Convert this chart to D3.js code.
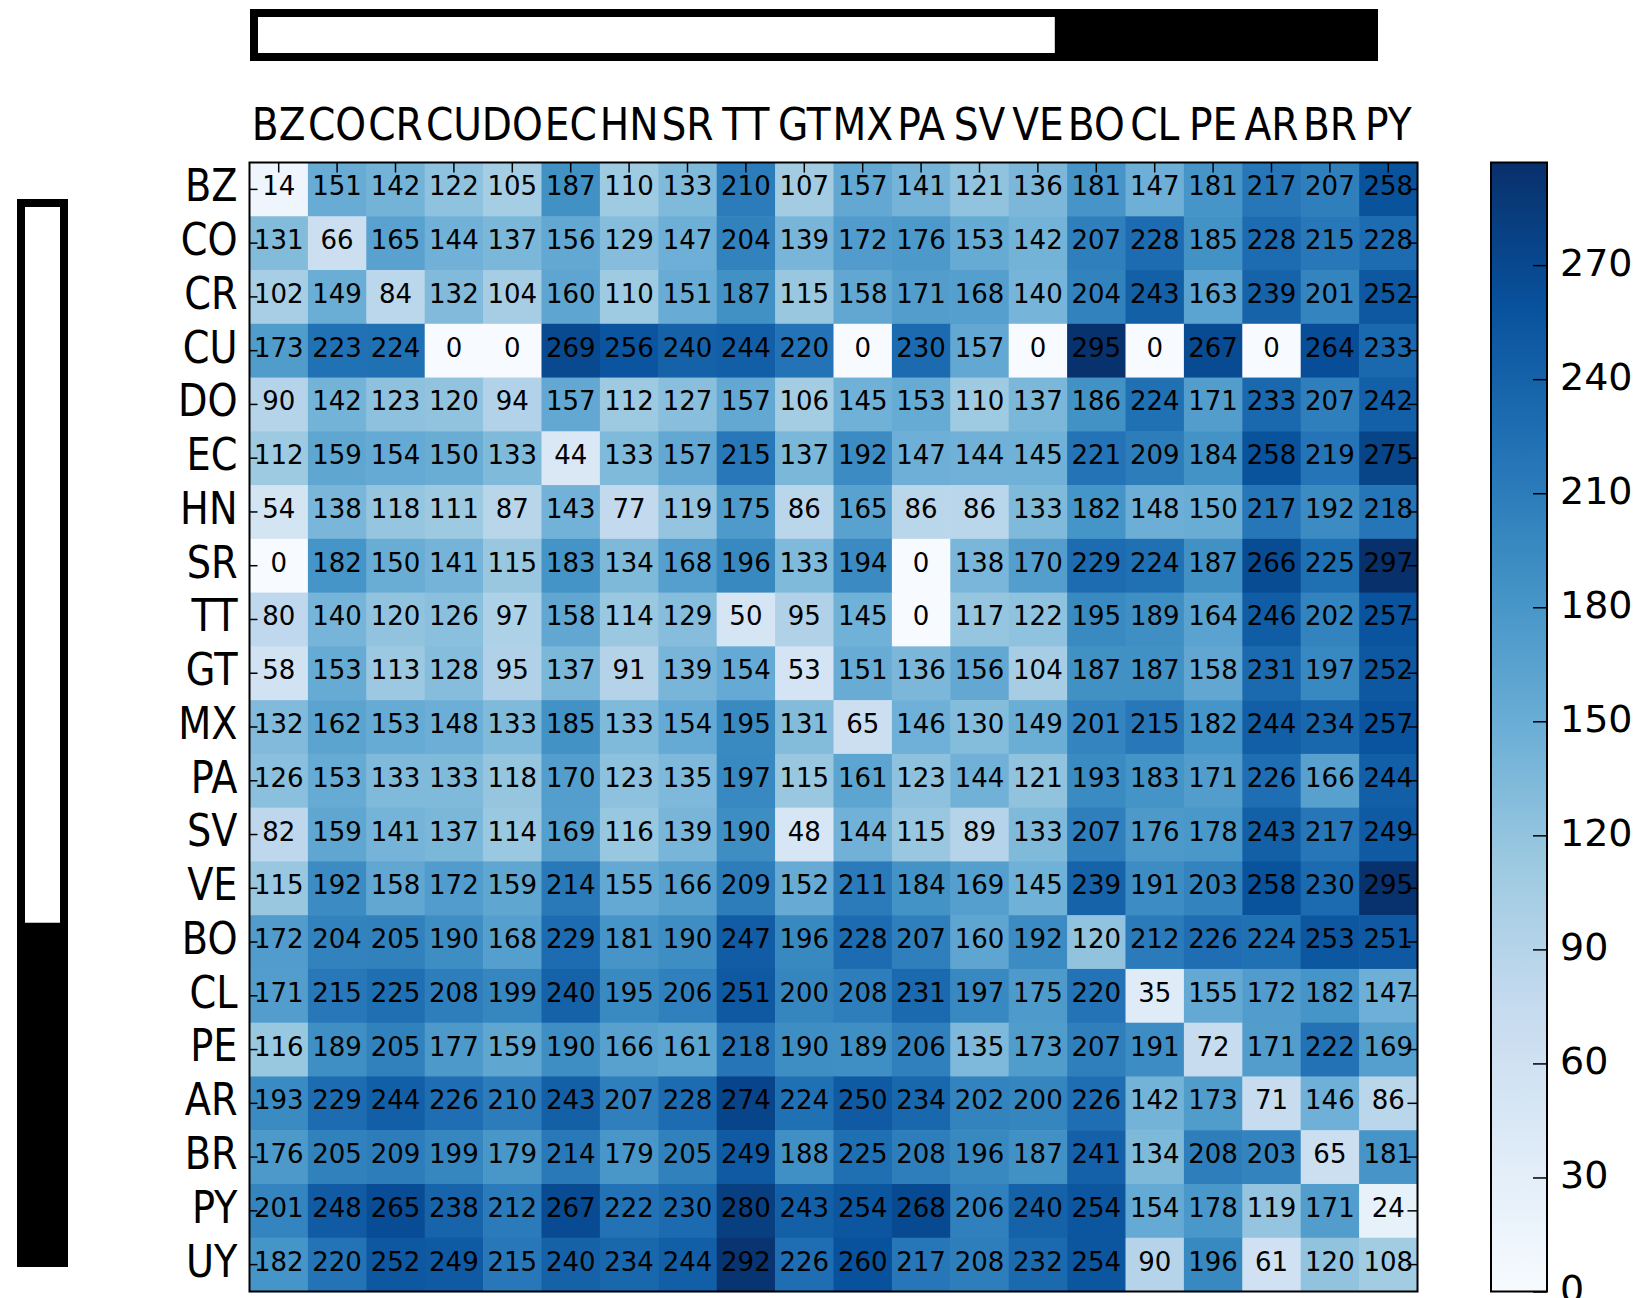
<!DOCTYPE html>
<html>
<head>
<meta charset="utf-8">
<script src="https://cdn.jsdelivr.net/npm/d3@7"></script>
<style>
  body { margin: 0; background: #fff; }
  svg { display: block; }
  text { font-family: 'DejaVu Sans', sans-serif; fill: #000; }
</style>
</head>
<body>
<svg id="chart" width="1645" height="1298"></svg>
<script>
// country codes, columns and rows
const cols = ['BZ', 'CO', 'CR', 'CU', 'DO', 'EC', 'HN', 'SR', 'TT', 'GT', 'MX', 'PA', 'SV', 'VE', 'BO', 'CL', 'PE', 'AR', 'BR', 'PY']
const rows = ['BZ', 'CO', 'CR', 'CU', 'DO', 'EC', 'HN', 'SR', 'TT', 'GT', 'MX', 'PA', 'SV', 'VE', 'BO', 'CL', 'PE', 'AR', 'BR', 'PY', 'UY']

// matrix values, one list per row
const values = [
  [14, 151, 142, 122, 105, 187, 110, 133, 210, 107, 157, 141, 121, 136, 181, 147, 181, 217, 207, 258],
  [131, 66, 165, 144, 137, 156, 129, 147, 204, 139, 172, 176, 153, 142, 207, 228, 185, 228, 215, 228],
  [102, 149, 84, 132, 104, 160, 110, 151, 187, 115, 158, 171, 168, 140, 204, 243, 163, 239, 201, 252],
  [173, 223, 224, 0, 0, 269, 256, 240, 244, 220, 0, 230, 157, 0, 295, 0, 267, 0, 264, 233],
  [90, 142, 123, 120, 94, 157, 112, 127, 157, 106, 145, 153, 110, 137, 186, 224, 171, 233, 207, 242],
  [112, 159, 154, 150, 133, 44, 133, 157, 215, 137, 192, 147, 144, 145, 221, 209, 184, 258, 219, 275],
  [54, 138, 118, 111, 87, 143, 77, 119, 175, 86, 165, 86, 86, 133, 182, 148, 150, 217, 192, 218],
  [0, 182, 150, 141, 115, 183, 134, 168, 196, 133, 194, 0, 138, 170, 229, 224, 187, 266, 225, 297],
  [80, 140, 120, 126, 97, 158, 114, 129, 50, 95, 145, 0, 117, 122, 195, 189, 164, 246, 202, 257],
  [58, 153, 113, 128, 95, 137, 91, 139, 154, 53, 151, 136, 156, 104, 187, 187, 158, 231, 197, 252],
  [132, 162, 153, 148, 133, 185, 133, 154, 195, 131, 65, 146, 130, 149, 201, 215, 182, 244, 234, 257],
  [126, 153, 133, 133, 118, 170, 123, 135, 197, 115, 161, 123, 144, 121, 193, 183, 171, 226, 166, 244],
  [82, 159, 141, 137, 114, 169, 116, 139, 190, 48, 144, 115, 89, 133, 207, 176, 178, 243, 217, 249],
  [115, 192, 158, 172, 159, 214, 155, 166, 209, 152, 211, 184, 169, 145, 239, 191, 203, 258, 230, 295],
  [172, 204, 205, 190, 168, 229, 181, 190, 247, 196, 228, 207, 160, 192, 120, 212, 226, 224, 253, 251],
  [171, 215, 225, 208, 199, 240, 195, 206, 251, 200, 208, 231, 197, 175, 220, 35, 155, 172, 182, 147],
  [116, 189, 205, 177, 159, 190, 166, 161, 218, 190, 189, 206, 135, 173, 207, 191, 72, 171, 222, 169],
  [193, 229, 244, 226, 210, 243, 207, 228, 274, 224, 250, 234, 202, 200, 226, 142, 173, 71, 146, 86],
  [176, 205, 209, 199, 179, 214, 179, 205, 249, 188, 225, 208, 196, 187, 241, 134, 208, 203, 65, 181],
  [201, 248, 265, 238, 212, 267, 222, 230, 280, 243, 254, 268, 206, 240, 254, 154, 178, 119, 171, 24],
  [182, 220, 252, 249, 215, 240, 234, 244, 292, 226, 260, 217, 208, 232, 254, 90, 196, 61, 120, 108]
]

// colorbar
const colorMax = 297
const colorTicks = [0, 30, 60, 90, 120, 150, 180, 210, 240, 270]

// the two side bars (white part / black part, in percent)
const topShares = [71.5, 28.5]
const leftShares = [67.9, 32.1]
const shareFills = ['#fff', '#000']

// Blues (colorbrewer, same stops as matplotlib)
const blues = ['#f7fbff', '#deebf7', '#c6dbef', '#9ecae1', '#6baed6', '#4292c6', '#2171b5', '#08519c', '#08306b']

const svg = d3.select('#chart')

let color = d3.scaleLinear()
  .domain(blues.map((d, i) => i * colorMax / (blues.length - 1)))
  .range(blues)

// heatmap box
let hm = {left: 249.5, right: 1417.5, top: 162.5, bottom: 1291.5}

let x = d3.scaleBand().domain(cols).range([hm.left, hm.right])
let y = d3.scaleBand().domain(rows).range([hm.top, hm.bottom])

let cells = []
rows.forEach((r, i) => cols.forEach((c, j) => cells.push({r: r, c: c, v: values[i][j]})))

let g = svg.append('g')

// cells
g.selectAll('rect.cell')
  .data(cells)
  .enter().append('rect')
    .attr('class', 'cell')
    .attr('x', d => x(d.c))
    .attr('y', d => y(d.r))
    .attr('width', x.bandwidth() + 0.6)
    .attr('height', y.bandwidth() + 0.6)
    .attr('fill', d => color(d.v))

// numbers in cells
g.selectAll('text.val')
  .data(cells)
  .enter().append('text')
    .attr('class', 'val')
    .attr('x', d => x(d.c) + x.bandwidth() / 2)
    .attr('y', d => y(d.r) + y.bandwidth() / 2 + 6)
    .attr('text-anchor', 'middle')
    .style('font-size', '26px')
    .text(d => d.v)

// labels are a bit narrow in the original
let squeeze = 0.87

// y axis left (labels), ticks inward
let yLeft = g.append('g')
  .attr('transform', 'translate(' + hm.left + ',0)')
  .call(d3.axisLeft(y).tickSizeInner(-8).tickSizeOuter(0).tickPadding(12))
yLeft.select('.domain').remove()
yLeft.selectAll('text')
  .attr('x', -12 / squeeze)
  .attr('dy', '0.27em')
  .attr('transform', 'scale(' + squeeze + ',1)')
  .style('font-size', '44px')
  .style('font-family', "'DejaVu Sans', sans-serif")

// y axis right, ticks only
let yRight = g.append('g')
  .attr('transform', 'translate(' + hm.right + ',0)')
  .call(d3.axisRight(y).tickSizeInner(-10).tickSizeOuter(0).tickFormat(''))
yRight.select('.domain').remove()

// x axis on top
let xTop = g.append('g')
  .attr('transform', 'translate(0,' + hm.top + ')')
  .call(d3.axisTop(x).tickSizeInner(-10).tickSizeOuter(0).tickPadding(23))
xTop.select('.domain').remove()
xTop.selectAll('text')
  .attr('transform', 'scale(' + squeeze + ',1)')
  .style('font-size', '45px')
  .style('font-family', "'DejaVu Sans', sans-serif")

svg.selectAll('.tick line').attr('stroke', '#000').attr('stroke-width', 1.5)

// frame
g.append('rect')
  .attr('x', hm.left).attr('y', hm.top)
  .attr('width', hm.right - hm.left).attr('height', hm.bottom - hm.top)
  .attr('fill', 'none').attr('stroke', '#000').attr('stroke-width', 2)

// colorbar
let cb = {left: 1491, right: 1547, top: 162.5, bottom: 1291.5}
let cy = d3.scaleLinear().domain([0, colorMax]).range([cb.bottom, cb.top])

let grad = svg.append('defs').append('linearGradient')
  .attr('id', 'cbgrad')
  .attr('x1', 0).attr('y1', 1).attr('x2', 0).attr('y2', 0)
grad.selectAll('stop')
  .data(color.domain())
  .enter().append('stop')
    .attr('offset', d => d / colorMax)
    .attr('stop-color', d => color(d))

svg.append('rect')
  .attr('x', cb.left).attr('y', cb.top)
  .attr('width', cb.right - cb.left).attr('height', cb.bottom - cb.top)
  .attr('fill', 'url(#cbgrad)')

let cAxis = svg.append('g')
  .attr('transform', 'translate(' + cb.right + ',0)')
  .call(d3.axisRight(cy).tickValues(colorTicks).tickSizeInner(-14).tickSizeOuter(0).tickPadding(13))
cAxis.select('.domain').remove()
cAxis.selectAll('line').attr('stroke', '#000').attr('stroke-width', 1.5)
cAxis.selectAll('text')
  .attr('dy', '0.26em')
  .style('font-size', '38px')
  .style('font-family', "'DejaVu Sans', sans-serif")

svg.append('rect')
  .attr('x', cb.left).attr('y', cb.top)
  .attr('width', cb.right - cb.left).attr('height', cb.bottom - cb.top)
  .attr('fill', 'none').attr('stroke', '#000').attr('stroke-width', 2)

// stacked share bars
function shareBar (box, shares, horizontal) {
  let s = d3.scaleLinear().domain([0, d3.sum(shares)])
    .range(horizontal ? [box.left, box.right] : [box.top, box.bottom])
  let acc = 0
  let parts = shares.map((v, i) => { let p = {a: acc, b: acc + v, fill: shareFills[i]}; acc += v; return p })
  let bg = svg.append('g')
  bg.selectAll('rect')
    .data(parts)
    .enter().append('rect')
      .attr('x', d => horizontal ? s(d.a) : box.left)
      .attr('y', d => horizontal ? box.top : s(d.a))
      .attr('width', d => horizontal ? s(d.b) - s(d.a) : box.right - box.left)
      .attr('height', d => horizontal ? box.bottom - box.top : s(d.b) - s(d.a))
      .attr('fill', d => d.fill)
  bg.append('rect')
    .attr('x', box.left).attr('y', box.top)
    .attr('width', box.right - box.left).attr('height', box.bottom - box.top)
    .attr('fill', 'none').attr('stroke', '#000').attr('stroke-width', 8)
}

shareBar({left: 254, right: 1374, top: 13, bottom: 57}, topShares, true)
shareBar({left: 21, right: 64, top: 203, bottom: 1263}, leftShares, false)
</script>
</body>
</html>
